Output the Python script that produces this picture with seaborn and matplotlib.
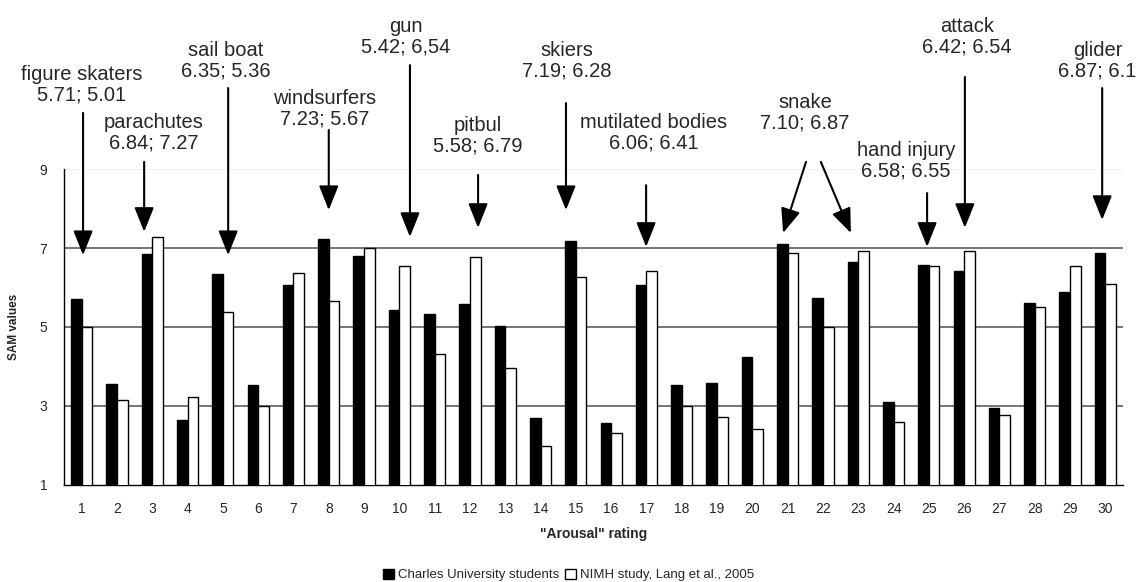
import pandas as pd
import seaborn as sns
import matplotlib.pyplot as plt
from matplotlib.patches import Patch

# values
ratings = [str(i) for i in range(1, 31)]
charles = [5.71, 3.56, 6.84, 2.65, 6.35, 3.53, 6.06, 7.23, 6.80, 5.42,
           5.32, 5.58, 5.02, 2.70, 7.19, 2.58, 6.06, 3.52, 3.57, 4.23,
           7.10, 5.73, 6.65, 3.11, 6.58, 6.42, 2.96, 5.61, 5.89, 6.87]
nimh = [5.01, 3.15, 7.27, 3.23, 5.37, 3.00, 6.37, 5.66, 7.00, 6.54,
        4.31, 6.78, 3.95, 1.99, 6.27, 2.32, 6.42, 3.00, 2.73, 2.42,
        6.87, 5.00, 6.93, 2.60, 6.55, 6.93, 2.76, 5.50, 6.54, 6.10]
series_names = ["Charles University students", "NIMH study, Lang et al., 2005"]

# picture labels: text, text position, arrows (tail x, tail y, tip x, tip y)
label_texts = ["figure skaters\n5.71; 5.01", "parachutes\n6.84; 7.27", "sail boat\n6.35; 5.36",
               "windsurfers\n7.23; 5.67", "gun\n5.42; 6,54", "pitbul\n5.58; 6.79",
               "skiers\n7.19; 6.28", "mutilated bodies\n6.06; 6.41", "snake\n7.10; 6.87",
               "hand injury\n6.58; 6.55", "attack\n6.42; 6.54", "glider\n6.87; 6.1"]
label_pos = [(0.01, 11.13), (2.05, 9.91), (4.09, 11.73), (6.89, 10.52), (9.19, 12.34),
             (11.23, 9.84), (13.75, 11.73), (16.21, 9.91), (20.49, 10.42), (23.35, 9.20),
             (25.08, 12.34), (28.78, 11.73)]
label_arrows = [[(0.04, 10.42, 0.04, 6.82)],
                [(1.77, 9.18, 1.77, 7.41)],
                [(4.15, 11.05, 4.15, 6.82)],
                [(7.00, 9.99, 7.00, 7.96)],
                [(9.30, 11.63, 9.30, 7.28)],
                [(11.23, 8.85, 11.23, 7.51)],
                [(13.72, 10.67, 13.72, 7.96)],
                [(15.99, 8.59, 15.99, 7.03)],
                [(20.52, 9.18, 19.87, 7.38), (20.94, 9.18, 21.79, 7.38)],
                [(23.95, 8.39, 23.95, 7.03)],
                [(25.02, 11.33, 25.02, 7.51)],
                [(28.91, 11.05, 28.91, 7.71)]]

df = pd.DataFrame({
    "rating": ratings * 2,
    "value": charles + nimh,
    "group": [series_names[0]] * 30 + [series_names[1]] * 30,
})

sns.set_style("white")
plt.rcParams["font.family"] = ["Liberation Sans", "DejaVu Sans"]

fig = plt.figure(figsize=(11.37, 5.82), dpi=100)
ax = fig.add_axes([0.0563, 0.1667, 0.9314, 0.5429])

sns.barplot(data=df, x="rating", y="value", hue="group", order=ratings,
            hue_order=series_names, palette=["black", "white"], saturation=1,
            edgecolor="black", linewidth=1, width=0.6, legend=False, ax=ax, zorder=3)

for g in [3, 5, 7]:
    ax.axhline(g, color="#505050", lw=1.1, zorder=1)
ax.axhline(9, color="#eeeeee", lw=1.1, zorder=1)

ax.set_ylim(1, 9)
ax.set_xlim(-0.5, 29.5)
ax.set_yticks([1, 3, 5, 7, 9])
ax.set_xticks(range(30))
ax.set_xticklabels(ratings)
ax.set_xticks([i - 0.5 for i in range(31)], minor=True)
ax.tick_params(axis="x", which="major", length=0, pad=12, labelsize=10)
ax.tick_params(axis="x", which="minor", length=5, width=1, color="black", direction="out")
ax.tick_params(axis="y", length=5, width=1, color="black", direction="out", pad=7, labelsize=10)

for side in ["top", "right"]:
    ax.spines[side].set_visible(False)
for side in ["left", "bottom"]:
    ax.spines[side].set_color("black")
    ax.spines[side].set_linewidth(1)

ax.set_xlabel('"Arousal" rating', fontsize=10, fontweight="bold", labelpad=8)
ax.set_ylabel("SAM values", fontsize=8.5, fontweight="bold", labelpad=14)

for txt, (tx, ty), arrows in zip(label_texts, label_pos, label_arrows):
    ax.text(tx, ty, txt, ha="center", va="center", fontsize=14.5,
            linespacing=1.1, clip_on=False)
    for x0, y0, x1, y1 in arrows:
        ax.annotate("", xy=(x1, y1), xytext=(x0, y0), annotation_clip=False,
                    arrowprops=dict(arrowstyle="-|>,head_length=0.75,head_width=0.3",
                                    mutation_scale=20, color="black", lw=1.5,
                                    shrinkA=0, shrinkB=0))

handles = [Patch(facecolor="black", edgecolor="black"),
           Patch(facecolor="white", edgecolor="black")]
fig.legend(handles, series_names, loc="center", bbox_to_anchor=(0.5, 0.012), ncol=2,
           frameon=False, fontsize=9.5, handlelength=0.8, handleheight=0.8,
           handletextpad=0.3, columnspacing=0.5)

fig.savefig("out.png", dpi=100)
